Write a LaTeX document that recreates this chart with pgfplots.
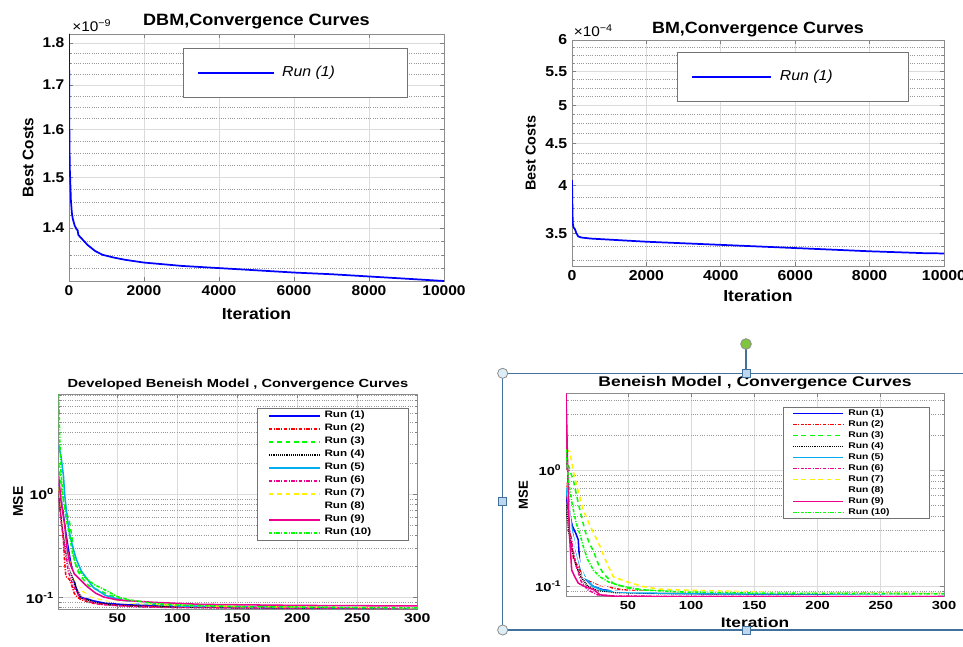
\documentclass[border=0pt]{standalone}
\usepackage{fontspec}
\setmainfont{Liberation Sans}
\newfontfamily\fa[FakeStretch=1.1]{Liberation Sans}
\newfontfamily\fb[FakeStretch=1.25]{Liberation Sans}
\usepackage{pgfplots}
\pgfplotsset{compat=1.18}
\definecolor{selblue}{RGB}{65,113,156}
\definecolor{hfill}{RGB}{222,238,246}
\definecolor{sqfill}{RGB}{189,215,238}
\definecolor{gfill}{RGB}{128,196,64}

\pgfplotsset{
  mat/.style={
    scale only axis, clip mode=individual, no markers,
    scaled x ticks=false, scaled y ticks=false,
    axis line style={black!45, line width=0.7pt},
    tick style={black!50, line width=0.5pt},
    tick align=inside, major tick length=3pt, minor tick length=1.5pt,
    xmajorgrids, ymajorgrids, yminorgrids,
    major grid style={black!14, line width=0.6pt},
    minor grid style={black!40, line width=0.5pt, dash pattern=on 0.5pt off 1.2pt},
    legend cell align=left,
  },
  dd/.style={dash pattern=on 2.6pt off 1.1pt on 0.8pt off 1.1pt},
  da/.style={dash pattern=on 3.5pt off 2.8pt},
  dt/.style={dash pattern=on 0.7pt off 0.7pt},
  lw/.style={line width=1.15pt},
}
\newcommand{\lc}[2]{\makebox[#1][l]{#2}}

\begin{document}
\begin{tikzpicture}
\fill[white] (0pt,0pt) rectangle (722.25pt,-484.5pt);

% ---------- top left: DBM ----------
\begin{axis}[mat,
  at={(51.75pt,-210.75pt)}, anchor=south west,
  width=281.25pt, height=185.25pt,
  xmin=0, xmax=10000, ymode=log, ymin=1.303, ymax=1.822,
  xtick={0,2000,4000,6000,8000,10000}, xticklabels={0,2000,4000,6000,8000,10000},
  ytick={1.4,1.5,1.6,1.7,1.8}, yticklabels={1.4,1.5,1.6,1.7,1.8},
  minor ytick={1.325,1.35,1.375,1.425,1.45,1.475,1.525,1.55,1.575,1.625,1.65,1.675,1.725,1.75,1.775,1.8},
  tick label style={font=\fa\bfseries\fontsize{10.6}{12}\selectfont},
  title={DBM,Convergence Curves},
  title style={font=\fa\bfseries\fontsize{12.3}{14}\selectfont, at={(0.5,1.0486)}, anchor=center, yshift=-6pt},
  xlabel={Iteration},
  xlabel style={font=\fa\bfseries\fontsize{12}{14}\selectfont, at={(0.5,-0.1336)}, anchor=center},
  ylabel={Best Costs},
  ylabel style={font=\bfseries\fontsize{11.5}{13}\selectfont, at={(-0.1093,0.5)}, anchor=center},
  legend style={at={(0.304,0.943)}, anchor=north west, draw=black!55, line width=0.6pt,
    inner xsep=10.5pt, inner ysep=13pt, font=\fa\itshape\fontsize{10.8}{12}\selectfont,
    nodes={inner sep=0pt, text height=8pt, text depth=3pt}},
  legend image code/.code={\draw[#1] (0pt,0pt) -- (57pt,0pt);},
]
\addplot[blue, line width=1.3pt] coordinates {
 (0,1.822)(5,1.70)(10,1.60)(20,1.52)(30,1.50)(50,1.455)(75,1.43)(100,1.418)(150,1.405)
 (200,1.398)(230,1.396)(250,1.387)(340,1.380)(500,1.368)(700,1.357)(900,1.350)(1200,1.345)
 (1500,1.341)(2000,1.336)(2500,1.333)(3000,1.330)(4000,1.326)(5000,1.322)(6000,1.318)
 (7000,1.315)(8000,1.311)(9000,1.307)(10000,1.303)};
\legend{\lc{88.5pt}{\hspace{5.25pt}Run (1)}}
\node[anchor=base west, inner sep=0pt, font=\fa\fontsize{10.5}{12}\selectfont] at (rel axis cs:0.008,1.009) {×10\textsuperscript{−9}};
\end{axis}

% ---------- top right: BM ----------
\begin{axis}[mat,
  at={(429pt,-199.5pt)}, anchor=south west,
  width=279pt, height=169.5pt,
  xmin=0, xmax=10000, ymode=log, ymin=3.196, ymax=6,
  xtick={0,2000,4000,6000,8000,10000}, xticklabels={0,2000,4000,6000,8000,10000},
  ytick={3.5,4,4.5,5,5.5,6}, yticklabels={3.5,4,4.5,5,5.5,6},
  minor ytick={3.25,3.375,3.625,3.75,3.875,4.125,4.25,4.375,4.625,4.75,4.875,5.125,5.25,5.375,5.625,5.75,5.875},
  tick label style={font=\fa\bfseries\fontsize{10.8}{12}\selectfont},
  title={BM,Convergence Curves},
  title style={font=\fa\bfseries\fontsize{12.2}{14}\selectfont, at={(0.5,1.047)}, anchor=center, yshift=-6pt},
  xlabel={Iteration},
  xlabel style={font=\fa\bfseries\fontsize{12}{14}\selectfont, at={(0.5,-0.1327)}, anchor=center},
  ylabel={Best Costs},
  ylabel style={font=\bfseries\fontsize{10.8}{13}\selectfont, at={(-0.111,0.5)}, anchor=center},
  legend style={at={(0.2815,0.948)}, anchor=north west, draw=black!55, line width=0.6pt,
    inner xsep=10.5pt, inner ysep=12.9pt, font=\fa\itshape\fontsize{10.8}{12}\selectfont,
    nodes={inner sep=0pt, text height=8pt, text depth=3pt}},
  legend image code/.code={\draw[#1] (0pt,0pt) -- (59.5pt,0pt);},
]
\addplot[blue, line width=1.3pt] coordinates {
 (0,4.06)(10,3.8)(20,3.6)(40,3.56)(80,3.54)(120,3.50)(170,3.47)(250,3.46)(500,3.45)
 (1000,3.44)(2000,3.42)(3000,3.405)(4000,3.39)(5000,3.375)(6000,3.36)(7000,3.345)
 (8000,3.33)(9000,3.318)(9500,3.312)(10000,3.31)};
\legend{\lc{92pt}{\hspace{5.8pt}Run (1)}}
\node[anchor=base west, inner sep=0pt, font=\fa\fontsize{10.5}{12}\selectfont] at (rel axis cs:0.004,1.015) {×10\textsuperscript{−4}};
\end{axis}

% ---------- bottom left: Developed Beneish Model ----------
\begin{axis}[mat,
  at={(44.0pt,-457pt)}, anchor=south west,
  width=268.95pt, height=161.5pt,
  xmin=1, xmax=300, ymode=log, ymin=0.077, ymax=9.3,
  xtick={50,100,150,200,250,300}, xticklabels={50,100,150,200,250,300},
  ytick={0.1,1}, yticklabels={10\textsuperscript{-1},10\textsuperscript{0}},
  minor ytick={0.08,0.09,0.2,0.3,0.4,0.5,0.6,0.7,0.8,0.9,2,3,4,5,6,7,8,9},
  tick label style={font=\fb\bfseries\fontsize{9.5}{11}\selectfont},
  title={Developed Beneish Model , Convergence Curves},
  title style={font=\fb\bfseries\fontsize{8.8}{10}\selectfont, at={(0.5,1.0464)}, anchor=center, yshift=-6pt},
  xlabel={Iteration},
  xlabel style={font=\fb\bfseries\fontsize{10}{12}\selectfont, at={(0.5,-0.1333)}, anchor=center},
  ylabel={MSE},
  ylabel style={font=\bfseries\fontsize{10.5}{12}\selectfont, at={(-0.1135,0.5)}, anchor=center},
  legend style={at={(0.553,0.936)}, anchor=north west, draw=black!55, line width=0.6pt,
    inner xsep=8pt, inner ysep=1pt, row sep=0pt, font=\fb\bfseries\fontsize{7}{8}\selectfont,
    nodes={inner sep=0pt, text height=6.2pt, text depth=3.55pt}},
  legend image code/.code={\draw[#1] (0pt,0pt) -- (38.25pt,0pt);},
]
\addplot[blue, lw] coordinates {(1,1.3)(3,0.9)(5,0.62)(7,0.42)(9,0.3)(11,0.22)(13,0.17)(15,0.13)(17,0.11)(19,0.1)(25,0.097)(30,0.093)(40,0.088)(60,0.085)(100,0.082)(150,0.080)(200,0.0795)(300,0.079)};
\addplot[red, lw, dd] coordinates {(1,1.1)(3,0.7)(5,0.35)(6,0.22)(7,0.16)(10,0.15)(12,0.13)(14,0.11)(17,0.1)(20,0.095)(30,0.088)(50,0.084)(80,0.082)(120,0.081)(200,0.080)(300,0.079)};
\addplot[green, lw, da] coordinates {(1,2.0)(4,1.0)(7,0.7)(10,0.54)(12,0.39)(14,0.23)(17,0.18)(20,0.158)(26,0.13)(34,0.118)(44,0.105)(53,0.098)(65,0.09)(80,0.086)(120,0.082)(200,0.080)(300,0.079)};
\addplot[black, lw, dt] coordinates {(1,1.0)(3,0.6)(6,0.35)(9,0.22)(12,0.16)(16,0.12)(20,0.1)(30,0.09)(45,0.085)(70,0.082)(120,0.080)(300,0.0785)};
\addplot[cyan, lw] coordinates {(1,3.0)(3,2.3)(5,1.5)(6,1.0)(8,0.6)(10,0.42)(13,0.3)(16,0.23)(20,0.18)(25,0.15)(30,0.125)(40,0.105)(60,0.09)(100,0.083)(200,0.080)(300,0.079)};
\addplot[magenta, lw, dd] coordinates {(1,0.9)(3,0.55)(6,0.3)(9,0.18)(13,0.13)(18,0.105)(25,0.092)(35,0.086)(60,0.082)(100,0.080)(300,0.0785)};
\addplot[yellow, lw, da] coordinates {(1,1.2)(3,0.8)(6,0.42)(9,0.26)(12,0.18)(16,0.135)(22,0.112)(30,0.1)(40,0.094)(60,0.089)(90,0.085)(150,0.082)(300,0.080)};
\addplot[white, lw] coordinates {(1,1.5)(5,0.5)(10,0.2)(20,0.11)(50,0.09)(300,0.08)};
\addplot[magenta, lw] coordinates {(1,1.5)(3,0.85)(6,0.5)(8,0.3)(10,0.22)(14,0.17)(20,0.145)(25,0.127)(32,0.11)(39,0.101)(50,0.095)(80,0.09)(120,0.086)(200,0.084)(300,0.083)};
\addplot[green, lw, dd] coordinates {(1,9.2)(2,3.2)(3,1.6)(5,0.85)(8,0.52)(10,0.4)(13,0.25)(17,0.19)(22,0.16)(30,0.135)(40,0.118)(50,0.102)(60,0.095)(80,0.088)(100,0.085)(150,0.082)(300,0.0795)};
\legend{\lc{57.5pt}{\hspace{3pt}Run (1)},\lc{57.5pt}{\hspace{3pt}Run (2)},\lc{57.5pt}{\hspace{3pt}Run (3)},\lc{57.5pt}{\hspace{3pt}Run (4)},\lc{57.5pt}{\hspace{3pt}Run (5)},\lc{57.5pt}{\hspace{3pt}Run (6)},\lc{57.5pt}{\hspace{3pt}Run (7)},\lc{57.5pt}{\hspace{3pt}Run (8)},\lc{57.5pt}{\hspace{3pt}Run (9)},\lc{57.5pt}{\hspace{3pt}Run (10)}}
\end{axis}

% ---------- bottom right: Beneish Model ----------
\begin{axis}[mat,
  at={(424.5pt,-447.5pt)}, anchor=south west,
  width=283.5pt, height=152.55pt,
  xmin=1, xmax=300, ymode=log, ymin=0.081, ymax=4.58,
  xtick={50,100,150,200,250,300}, xticklabels={50,100,150,200,250,300},
  ytick={0.1,1}, yticklabels={10\textsuperscript{-1},10\textsuperscript{0}},
  minor ytick={0.09,0.2,0.3,0.4,0.5,0.6,0.7,0.8,0.9,2,3,4},
  tick label style={font=\fb\bfseries\fontsize{8.8}{10}\selectfont},
  title={Beneish Model , Convergence Curves},
  title style={font=\fb\bfseries\fontsize{10.5}{12}\selectfont, at={(0.5,1.0506)}, anchor=center, yshift=-6pt},
  xlabel={Iteration},
  xlabel style={font=\fb\bfseries\fontsize{10.4}{12}\selectfont, at={(0.5,-0.126)}, anchor=center},
  ylabel={MSE},
  ylabel style={font=\bfseries\fontsize{9.8}{12}\selectfont, at={(-0.113,0.5)}, anchor=center},
  legend style={at={(0.575,0.933)}, anchor=north west, draw=black!55, line width=0.6pt,
    inner xsep=6.3pt, inner ysep=0.5pt, row sep=0pt, font=\fb\bfseries\fontsize{6.2}{7}\selectfont,
    nodes={inner sep=0pt, text height=5.3pt, text depth=2.95pt}},
  legend image code/.code={\draw[#1, line width=1.4pt] (0pt,0pt) -- (37.5pt,0pt);},
]
\addplot[blue, lw] coordinates {(1,0.6)(3,0.45)(6,0.33)(9,0.28)(10.7,0.25)(12,0.147)(14,0.13)(17,0.113)(22,0.1)(30,0.093)(45,0.089)(70,0.087)(120,0.086)(300,0.085)};
\addplot[red, lw, dd] coordinates {(1,0.8)(3,0.4)(5,0.25)(7,0.17)(10,0.15)(14,0.125)(20,0.11)(30,0.1)(45,0.093)(70,0.089)(120,0.087)(300,0.086)};
\addplot[green, lw, da] coordinates {(1,1.3)(4,1.0)(7,0.8)(9.4,0.6)(12,0.45)(16,0.3)(19,0.24)(22.7,0.2)(27,0.15)(30.5,0.128)(38,0.106)(50,0.096)(70,0.091)(120,0.088)(300,0.086)};
\addplot[black, lw, dt] coordinates {(1,0.5)(3,0.3)(6,0.2)(9,0.15)(13,0.12)(18,0.1)(25,0.092)(40,0.088)(80,0.086)(300,0.085)};
\addplot[cyan, lw] coordinates {(1,0.7)(3,0.5)(6,0.3)(9,0.2)(12,0.15)(16,0.118)(22,0.1)(30,0.092)(50,0.088)(100,0.086)(300,0.085)};
\addplot[magenta, lw, dd] coordinates {(1,4.5)(2,1.0)(4,0.4)(6,0.22)(9,0.15)(13,0.11)(18,0.093)(26,0.084)(40,0.082)(80,0.0815)(300,0.081)};
\addplot[yellow, lw, da] coordinates {(1,1.5)(4,1.44)(7,0.95)(10,0.7)(14.7,0.45)(20,0.33)(24,0.27)(28,0.218)(33,0.16)(38.4,0.12)(49,0.109)(62,0.099)(75,0.094)(100,0.092)(150,0.089)(180,0.087)(300,0.086)};
\addplot[white, lw] coordinates {(1,1)(5,0.3)(15,0.12)(40,0.09)(300,0.085)};
\addplot[magenta, lw] coordinates {(1,4.58)(2,1.5)(3,0.5)(4,0.25)(5.5,0.137)(8,0.12)(10.7,0.106)(15,0.1)(23,0.093)(28,0.084)(40,0.0815)(100,0.081)(300,0.081)};
\addplot[green, lw, dd] coordinates {(1,1.5)(3,0.8)(6,0.5)(9,0.35)(12,0.28)(14.7,0.218)(18,0.17)(22.7,0.137)(28,0.12)(35,0.108)(45,0.1)(60,0.093)(90,0.089)(150,0.087)(300,0.0855)};
\legend{\lc{57.4pt}{\hspace{3.2pt}Run (1)},\lc{57.4pt}{\hspace{3.2pt}Run (2)},\lc{57.4pt}{\hspace{3.2pt}Run (3)},\lc{57.4pt}{\hspace{3.2pt}Run (4)},\lc{57.4pt}{\hspace{3.2pt}Run (5)},\lc{57.4pt}{\hspace{3.2pt}Run (6)},\lc{57.4pt}{\hspace{3.2pt}Run (7)},\lc{57.4pt}{\hspace{3.2pt}Run (8)},\lc{57.4pt}{\hspace{3.2pt}Run (9)},\lc{57.4pt}{\hspace{3.2pt}Run (10)}}
\end{axis}

% ---------- selection frame around the bottom right picture ----------
\draw[selblue, line width=0.8pt] (377pt,-280pt) rectangle (740pt,-472.5pt);
\draw[selblue, line width=0.8pt] (559.5pt,-258pt) -- (559.5pt,-280pt);
\filldraw[draw=black!45, fill=gfill, line width=0.6pt] (559.5pt,-258pt) circle (4pt);
\foreach \p in {(377pt,-280pt),(377pt,-472.5pt)}
  \filldraw[draw=black!45, fill=hfill, line width=0.6pt] \p circle (3.8pt);
\foreach \p in {(559.5pt,-280pt),(559.5pt,-472.5pt),(377pt,-376.3pt)}
  \filldraw[draw=selblue, fill=sqfill, line width=0.6pt] \p ++(-3pt,-3pt) rectangle ++(6pt,6pt);

\pgfresetboundingbox
\path[use as bounding box] (0pt,0pt) rectangle (722.25pt,-484.5pt);
\end{tikzpicture}
\end{document}
